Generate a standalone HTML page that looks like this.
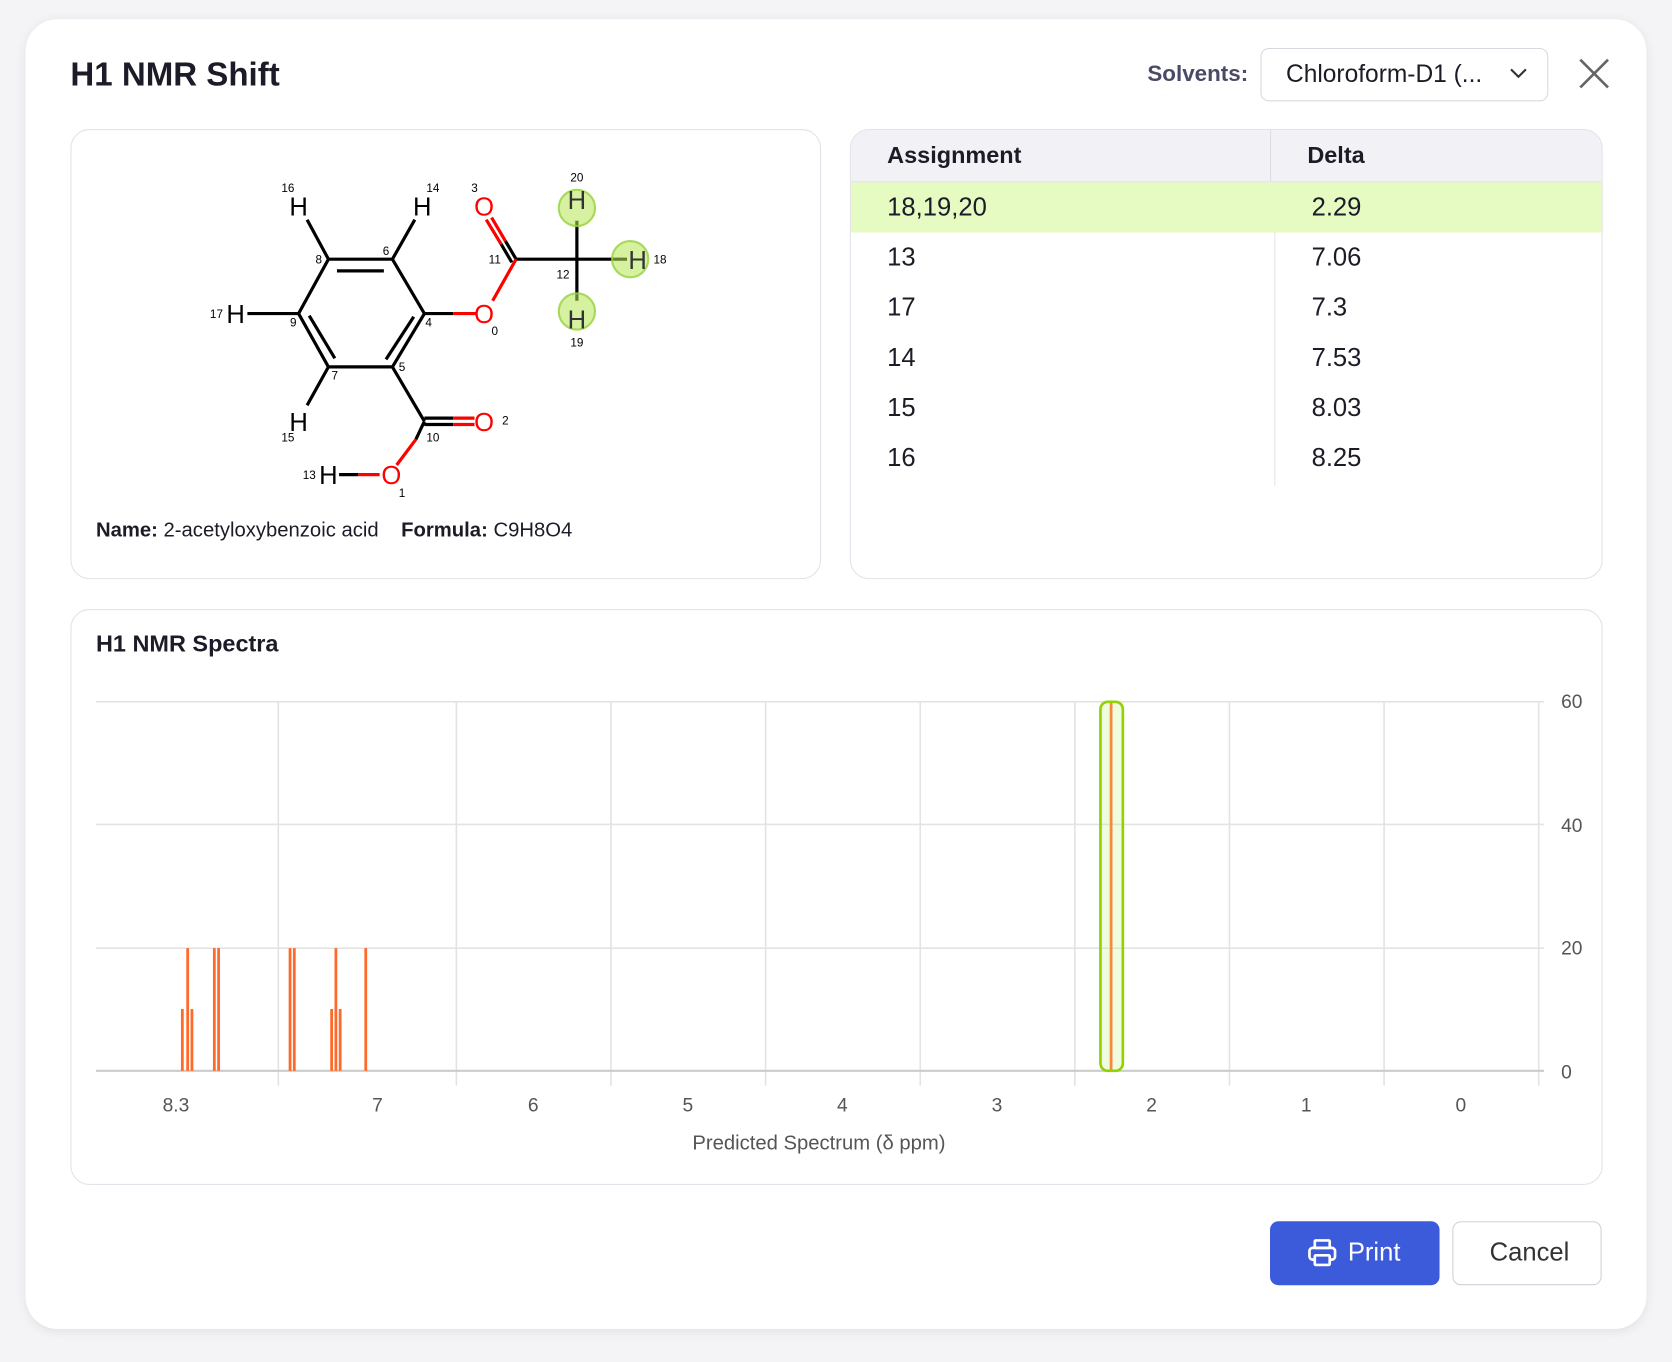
<!DOCTYPE html>
<html><head><style>
html,body{margin:0;padding:0;background:#f4f4f7;width:1672px;height:1362px;overflow:hidden}
#w{position:absolute;left:0;top:0;width:1568px;height:1277px;transform:scale(1.06633,1.06656);transform-origin:0 0;font-family:"Liberation Sans",sans-serif;color:#1c1c28}
.card{position:absolute;background:#fff;border:1px solid #e2e2ea;border-radius:18px}
.abs{position:absolute}
</style></head><body><div id="w">
<div class="card" style="left:24px;top:18px;width:1520px;height:1228px;border-radius:30px;border:none;box-shadow:0 2px 10px rgba(0,0,0,.08)"></div>
<div class="abs" style="left:66px;top:52px;font-size:31px;font-weight:bold">H1 NMR Shift</div>
<div class="abs" style="left:1076px;top:58px;font-size:21px;font-weight:bold;color:#4a4a68">Solvents:</div>
<div class="abs" style="left:1182px;top:45px;width:268px;height:48px;border:1px solid #d8d8e0;border-radius:8px;background:#fff"></div>
<div class="abs" style="left:1206px;top:56px;font-size:23px">Chloroform-D1 (...</div>
<svg class="abs" style="left:1414px;top:62px" width="20" height="14"><path d="M3 3l7 7 7-7" stroke="#333" stroke-width="2" fill="none"/></svg>
<svg class="abs" style="left:1478px;top:52px" width="34" height="34"><path d="M4 4L30 30M30 4L4 30" stroke="#666" stroke-width="2.5"/></svg>

<div class="card" style="left:66px;top:121px;width:702px;height:420px"></div>
<svg class="abs" style="left:0;top:0" width="780" height="480" font-family="Liberation Sans,sans-serif">
<g stroke="#000" stroke-width="3" fill="none">
<path d="M308 243L368 243L398 294L368 344L308 344L280 294Z"/>
<path d="M316 254L360 254M388 297L362 337M290 296L314 336"/>
<path d="M308 243L288 206M368 243L389 206M280 294L232 294M308 344L288 380M368 344L398 395M398 294L425 294M484 243L541 243L541 207M541 243L541 282M541 243L588 243M484 243L474 226M398 392L425 392M398 398L425 398M398 395L390 412M318 445L336 445M480 246L470 229"/>
</g>
<g stroke="#f00" stroke-width="3" fill="none"><path d="M425 294L446 294M484 243L462 282M474 226L461 204M470 229L456 206M425 392L445 392M425 398L445 398M390 412L372 436M336 445L356 445"/></g>
<g fill="rgba(180,230,80,.55)" stroke="rgba(150,210,60,.8)" stroke-width="2"><circle cx="541" cy="195" r="17"/><circle cx="591" cy="243" r="17"/><circle cx="541" cy="292" r="17"/></g>
<g font-size="24" text-anchor="middle"><text x="280" y="202">H</text><text x="396" y="202">H</text><text x="221" y="303">H</text><text x="280" y="404">H</text><text x="308" y="454">H</text><text x="541" y="196" fill="#333">H</text><text x="598" y="252" fill="#333">H</text><text x="541" y="308" fill="#333">H</text>
<g fill="#f00"><text x="454" y="303">O</text><text x="454" y="202">O</text><text x="454" y="404">O</text><text x="367" y="454">O</text></g></g>
<g font-size="11" text-anchor="middle"><text x="270" y="180">16</text><text x="406" y="180">14</text><text x="445" y="180">3</text><text x="541" y="170">20</text><text x="299" y="247">8</text><text x="362" y="239">6</text><text x="464" y="247">11</text><text x="619" y="247">18</text><text x="528" y="261">12</text><text x="203" y="298">17</text><text x="275" y="306">9</text><text x="402" y="306">4</text><text x="464" y="314">0</text><text x="541" y="325">19</text><text x="377" y="348">5</text><text x="314" y="356">7</text><text x="474" y="398">2</text><text x="270" y="414">15</text><text x="406" y="414">10</text><text x="290" y="449">13</text><text x="377" y="466">1</text></g>
</svg>
<div class="abs" style="left:90px;top:487px;font-size:19px"><b>Name:</b> 2-acetyloxybenzoic acid &nbsp;&nbsp;&nbsp;<b>Formula:</b> C9H8O4</div>

<div class="card" style="left:797px;top:121px;width:704px;height:420px;overflow:hidden">
<div class="abs" style="left:0;top:0;width:704px;height:48px;background:#f1f1f6;border-bottom:1px solid #e2e2ea"></div>
<div class="abs" style="left:393px;top:0;width:1px;height:48px;background:#dcdce4"></div>
<div class="abs" style="left:397px;top:48px;width:1px;height:285px;background:#e4e4ea"></div>
<div class="abs" style="left:34px;top:11px;font-size:22px;font-weight:bold">Assignment</div>
<div class="abs" style="left:428px;top:11px;font-size:22px;font-weight:bold">Delta</div>
<div class="abs" style="left:0;top:49px;width:704px;height:47px;background:#e5fbc2"></div>
<div class="abs" style="left:34px;top:49px;font-size:24px;line-height:47px">18,19,20<br>13<br>17<br>14<br>15<br>16</div>
<div class="abs" style="left:432px;top:49px;font-size:24px;line-height:47px">2.29<br>7.06<br>7.3<br>7.53<br>8.03<br>8.25</div>
</div>

<div class="card" style="left:66px;top:571px;width:1435px;height:538px"></div>
<div class="abs" style="left:90px;top:591px;font-size:22px;font-weight:bold">H1 NMR Spectra</div>
<svg class="abs" style="left:0;top:0" width="1568" height="1277" font-family="Liberation Sans,sans-serif">
<g stroke="#e3e3e3" stroke-width="1.5">
<path d="M90 658H1448M90 773H1448M90 889H1448"/>
<path d="M261 658V1018M428 658V1018M573 658V1018M718 658V1018M863 658V1018M1008 658V1018M1153 658V1018M1298 658V1018M1443 658V1018"/>
</g>
<path d="M90 1004H1448" stroke="#ccc" stroke-width="2"/>
<g stroke="#ff6a2a" stroke-width="2.6"><path d="M171 1004V946M176 1004V889M180 1004V946M201 1004V889M205 1004V889M272 1004V889M276 1004V889M311 1004V946M315 1004V889M319 1004V946M343 1004V889M1042 1004V658"/></g>
<rect x="1032" y="658" width="21" height="346" rx="7" fill="rgba(200,240,120,.25)" stroke="#8fd400" stroke-width="2.5"/>
<g font-size="18" fill="#555" text-anchor="middle"><text x="165" y="1042">8.3</text><text x="354" y="1042">7</text><text x="500" y="1042">6</text><text x="645" y="1042">5</text><text x="790" y="1042">4</text><text x="935" y="1042">3</text><text x="1080" y="1042">2</text><text x="1225" y="1042">1</text><text x="1370" y="1042">0</text>
<text x="768" y="1078" font-size="19">Predicted Spectrum (δ ppm)</text></g>
<g font-size="18" fill="#555"><text x="1464" y="664">60</text><text x="1464" y="780">40</text><text x="1464" y="895">20</text><text x="1464" y="1011">0</text></g>
</svg>

<div class="abs" style="left:1191px;top:1145px;width:159px;height:60px;background:#3b5bdb;border-radius:8px"></div>
<svg class="abs" style="left:1226px;top:1161px" width="28" height="28"><g fill="none" stroke="#fff" stroke-width="2.5"><rect x="7" y="2" width="14" height="7" rx="1"/><rect x="2" y="9" width="24" height="11" rx="3"/><rect x="7" y="16" width="14" height="9" rx="1" fill="#3b5bdb"/></g></svg>
<div class="abs" style="left:1264px;top:1161px;font-size:24px;color:#fff">Print</div>
<div class="abs" style="left:1362px;top:1145px;width:138px;height:58px;border:1px solid #d0d0da;border-radius:8px;background:#fff"></div>
<div class="abs" style="left:1397px;top:1161px;font-size:24px;color:#333">Cancel</div>
</div></body></html>
